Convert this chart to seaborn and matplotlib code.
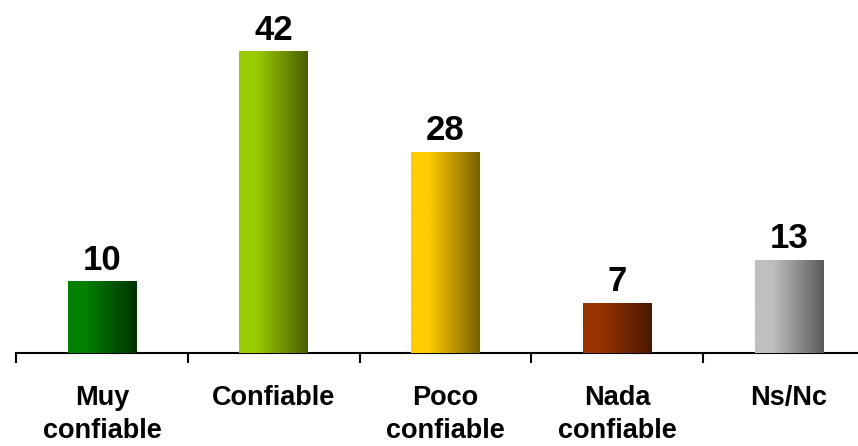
import numpy as np
import pandas as pd
import matplotlib
matplotlib.use('Agg')
import matplotlib.pyplot as plt
from matplotlib.colors import LinearSegmentedColormap
import seaborn as sns

# Chart data
categorias = ['Muy\nconfiable', 'Confiable', 'Poco\nconfiable', 'Nada\nconfiable', 'Ns/Nc']
valores = [10, 42, 28, 7, 13]
# gradient colours for each bar (left -> right)
colores_claros = ['#008000', '#99CC00', '#FFCC00', '#993300', '#C0C0C0']
colores_oscuros = ['#003300', '#4A5E00', '#7A6000', '#4A1800', '#5A5A5A']

df = pd.DataFrame({'categoria': categorias, 'valor': valores})

sns.set_style('white')
plt.rcParams['font.family'] = ['Liberation Sans', 'DejaVu Sans']
plt.rcParams['text.color'] = 'black'
plt.rcParams['xtick.color'] = 'black'

fig = plt.figure(figsize=(8.58, 4.46), dpi=100)
W, H = 858, 446
x0, x1 = 16.25, 858
y_axis = 353
px_per_unit = 7.19
ax = fig.add_axes([x0 / W, (H - y_axis) / H, (x1 - x0) / W, y_axis / H])

sns.barplot(data=df, x='categoria', y='valor', ax=ax, width=0.4,
            color='white', edgecolor='none', linewidth=0)

# horizontal gradient inside each bar
for i, patch in enumerate(ax.patches):
    bx, by = patch.get_x(), patch.get_y()
    bw, bh = patch.get_width(), patch.get_height()
    cmap = LinearSegmentedColormap.from_list(
        'g%d' % i, [(0, colores_claros[i]), (0.25, colores_claros[i]), (1, colores_oscuros[i])])
    grad = np.linspace(0, 1, 256).reshape(1, -1)
    im = ax.imshow(grad, cmap=cmap, aspect='auto', extent=[bx, bx + bw, by, by + bh],
                   zorder=3, interpolation='bilinear')
    im.set_clip_path(patch)
    ax.text(bx + bw / 2, bh + 0.6, str(valores[i]), ha='center', va='bottom',
            fontsize=25, fontweight='bold', color='black')

for s in ['top', 'right', 'left']:
    ax.spines[s].set_visible(False)
ax.spines['bottom'].set_linewidth(1.5)
ax.spines['bottom'].set_color('black')

ax.set_yticks([])
ax.set_xlabel('')
ax.set_ylabel('')
ax.set_xticks(range(len(categorias)))
ax.set_xticklabels(categorias, fontsize=19.5, fontweight='bold', linespacing=1.35,
                   color='black')
ax.tick_params(axis='x', which='major', bottom=True, length=0, pad=23)
ax.set_xticks(np.arange(-0.5, 4.6, 1), minor=True)
ax.tick_params(axis='x', which='minor', bottom=True, length=7, width=1.5,
               direction='out', color='black')

ax.set_xlim(-0.5, 4.5 - (874.75 - 858) / 171.5)
ax.set_ylim(0, y_axis / px_per_unit)

fig.savefig('out.png', dpi=100)
